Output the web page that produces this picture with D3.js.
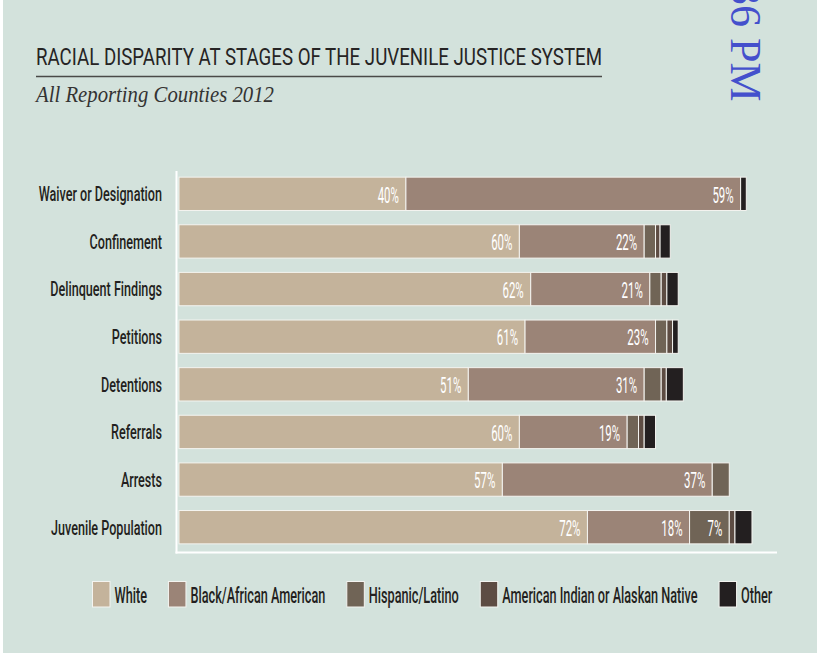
<!DOCTYPE html>
<html>
<head>
<meta charset="utf-8">
<script src="https://cdn.jsdelivr.net/npm/d3@7"></script>
<style>
  html, body { margin: 0; padding: 0; background: #ffffff; }
  svg { display: block; }
</style>
</head>
<body>
<svg id="chart" width="817" height="655"></svg>
<script>
// Stages of the juvenile justice system, top to bottom
const categories = [
  "Waiver or Designation",
  "Confinement",
  "Delinquent Findings",
  "Petitions",
  "Detentions",
  "Referrals",
  "Arrests",
  "Juvenile Population"
];

// Share of youth at each stage, in percent
const white    = [40, 60, 62, 61, 51, 60, 57, 72];
const black    = [59, 22, 21, 23, 31, 19, 37, 18];
const hispanic = [0, 2, 2, 2, 3, 2, 3, 7];
const aian     = [0, 0.8, 1, 1, 0.9, 1, 0, 1];
const other    = [1, 1.8, 2, 1, 3, 2, 0, 3];

const seriesNames = ["White", "Black/African American", "Hispanic/Latino",
                     "American Indian or Alaskan Native", "Other"];
const seriesColors = ["#c4b39b", "#9b8477", "#706456", "#5d4c43", "#231f20"];

const rows = categories.map((c, i) => ({
  category: c,
  White: white[i],
  "Black/African American": black[i],
  "Hispanic/Latino": hispanic[i],
  "American Indian or Alaskan Native": aian[i],
  Other: other[i]
}));

const svg = d3.select("#chart");
const condenseFont = "Roboto, 'Liberation Sans', sans-serif";

// squeeze text horizontally to mimic a condensed gothic face
function condense(sel, k) {
  sel.each(function () {
    const w = this.getComputedTextLength();
    d3.select(this).attr("textLength", w * k).attr("lengthAdjust", "spacingAndGlyphs");
  });
}

// page background
svg.append("rect").attr("x", 3).attr("y", 0).attr("width", 814).attr("height", 653)
  .attr("fill", "#d3e2dc");

// print timestamp in the margin
svg.append("text")
  .attr("transform", "translate(731,-17) rotate(90)")
  .attr("font-family", "'Liberation Serif', 'Times New Roman', serif")
  .attr("font-size", 44)
  .attr("fill", "#4450cc")
  .text("36 PM");

// title block
svg.append("text")
  .attr("x", 36).attr("y", 64.5)
  .attr("font-family", condenseFont)
  .attr("font-size", 23.5)
  .attr("fill", "#262424")
  .attr("textLength", 566)
  .attr("lengthAdjust", "spacingAndGlyphs")
  .text("RACIAL DISPARITY AT STAGES OF THE JUVENILE JUSTICE SYSTEM");

svg.append("line")
  .attr("x1", 36).attr("x2", 602).attr("y1", 76.5).attr("y2", 76.5)
  .attr("stroke", "#4a4a48").attr("stroke-width", 1.3);

svg.append("text")
  .attr("x", 36).attr("y", 101.5)
  .attr("font-family", "'Liberation Serif', 'Times New Roman', serif")
  .attr("font-style", "italic")
  .attr("font-size", 23.5)
  .attr("fill", "#333333")
  .attr("textLength", 238)
  .attr("lengthAdjust", "spacingAndGlyphs")
  .text("All Reporting Counties 2012");

// scales
const x = d3.scaleLinear().domain([0, 100]).range([179, 746.3]);
const y = d3.scaleBand().domain(categories).range([170, 551])
  .paddingInner(0.3).paddingOuter(0.15);

const stack = d3.stack().keys(seriesNames);
const layers = stack(rows);

const g = svg.append("g");
const layerG = g.selectAll("g.layer")
  .data(layers)
  .join("g")
  .attr("class", "layer")
  .attr("fill", (d, i) => seriesColors[i]);

layerG.selectAll("rect")
  .data(d => d.filter(p => p[1] - p[0] > 0))
  .join("rect")
  .attr("x", d => x(d[0]))
  .attr("y", d => y(d.data.category))
  .attr("width", d => x(d[1]) - x(d[0]))
  .attr("height", y.bandwidth())
  .attr("stroke", "#f4f4f0")
  .attr("stroke-width", 1);

// value labels inside the wider segments
layers.forEach((layer, li) => {
  const pts = layer.filter(p => p[1] - p[0] >= 5);
  g.append("g").selectAll("text")
    .data(pts)
    .join("text")
    .attr("x", d => x(d[1]) - 7)
    .attr("y", d => y(d.data.category) + y.bandwidth() / 2)
    .attr("dy", "0.4em")
    .attr("text-anchor", "end")
    .attr("font-family", condenseFont)
    .attr("font-size", 22)
    .attr("fill", "#ffffff")
    .text(d => (d[1] - d[0]) + "%")
    .call(condense, 0.52);
});

// category axis
const yAxis = svg.append("g")
  .attr("transform", "translate(162,0)")
  .call(d3.axisLeft(y).tickSize(0).tickPadding(0));
yAxis.select(".domain").remove();
yAxis.selectAll("text")
  .attr("font-family", condenseFont)
  .attr("font-size", 21)
  .attr("font-weight", 500)
  .attr("fill", "#231f20")
  .attr("dy", "0.35em")
  .call(condense, 0.6);

// white frame lines
svg.append("line").attr("x1", 176.5).attr("x2", 176.5).attr("y1", 171).attr("y2", 553.5)
  .attr("stroke", "#ffffff").attr("stroke-width", 2);
svg.append("line").attr("x1", 175.5).attr("x2", 777).attr("y1", 552.5).attr("y2", 552.5)
  .attr("stroke", "#ffffff").attr("stroke-width", 2);

// legend: labels are narrowed with a horizontal scale transform
const legend = svg.append("g");
const legendSqueeze = 0.59;
let lx = 92.5;
seriesNames.forEach((name, i) => {
  legend.append("rect")
    .attr("x", lx).attr("y", 581.5).attr("width", 17.5).attr("height", 25.5)
    .attr("fill", seriesColors[i])
    .attr("stroke", "#f4f4f0").attr("stroke-width", 1);
  const t = legend.append("text")
    .attr("transform", `translate(${lx + 22},602.5) scale(${legendSqueeze},1)`)
    .attr("font-family", condenseFont)
    .attr("font-size", 21.5)
    .attr("font-weight", 500)
    .attr("fill", "#231f20")
    .text(name);
  lx += 22 + t.node().getComputedTextLength() * legendSqueeze + 21.5;
});
</script>
</body>
</html>
